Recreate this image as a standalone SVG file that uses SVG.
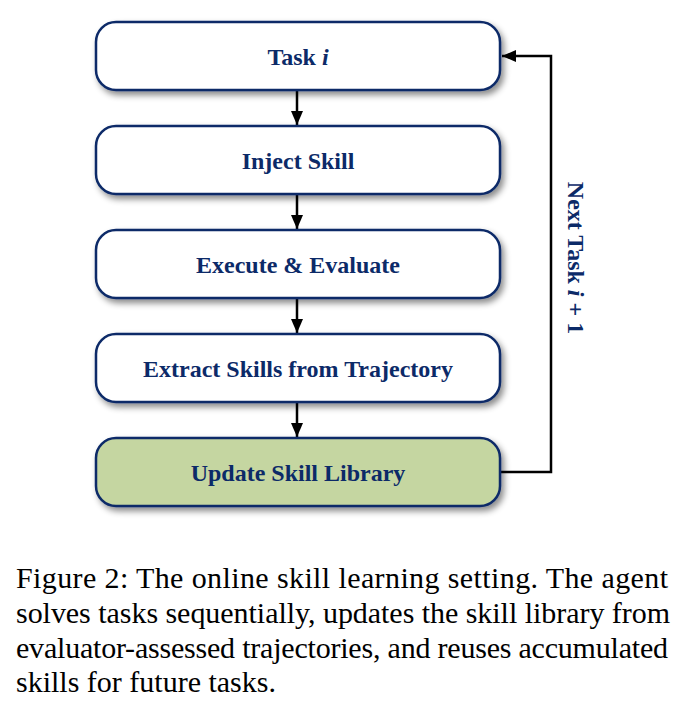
<svg xmlns="http://www.w3.org/2000/svg" width="686" height="718" viewBox="0 0 686 718">
<style>
.box{fill:#ffffff;stroke:#0c2a68;stroke-width:2.5}
.green{fill:#c5d6a1}
.lbl{font-family:"Liberation Serif",serif;font-weight:bold;font-size:24px;fill:#0c2a68;text-anchor:middle}
.conn{stroke:#000;stroke-width:2.5;fill:none}
.cap{font-family:"Liberation Serif",serif;font-size:30px;fill:#000}
</style>
<defs>
<filter id="sh" x="-10%" y="-20%" width="130%" height="160%">
<feDropShadow dx="3" dy="4" stdDeviation="3" flood-color="#000" flood-opacity="0.45"/>
</filter>
<marker id="ah2" markerWidth="14" markerHeight="12" refX="14" refY="6" orient="auto" markerUnits="userSpaceOnUse" viewBox="0 0 14 12">
<path d="M0,0 L14,6 L0,12 z" fill="#000"/>
</marker>
</defs>
<rect width="686" height="718" fill="#fff"/>
<g id="connectors">
<line class="conn" x1="297" y1="91" x2="297" y2="125" marker-end="url(#ah2)"/>
<line class="conn" x1="297" y1="195" x2="297" y2="229" marker-end="url(#ah2)"/>
<line class="conn" x1="297" y1="299" x2="297" y2="333" marker-end="url(#ah2)"/>
<line class="conn" x1="297" y1="403" x2="297" y2="437" marker-end="url(#ah2)"/>
<polyline class="conn" points="501,472 551,472 551,56 502,56" marker-end="url(#ah2)"/>
<text class="lbl" transform="translate(568,258) rotate(90)">Next Task <tspan font-style="italic">i</tspan> + 1</text>
</g>
<g id="task">
<rect class="box" x="96" y="22" width="404" height="68" rx="20" filter="url(#sh)"/>
<text class="lbl" x="298" y="65">Task <tspan font-style="italic">i</tspan></text>
</g>
<g id="inject">
<rect class="box" x="96" y="126" width="404" height="68" rx="20" filter="url(#sh)"/>
<text class="lbl" x="298" y="169">Inject Skill</text>
</g>
<g id="execute">
<rect class="box" x="96" y="230" width="404" height="68" rx="20" filter="url(#sh)"/>
<text class="lbl" x="298" y="273">Execute &amp; Evaluate</text>
</g>
<g id="extract">
<rect class="box" x="96" y="334" width="404" height="68" rx="20" filter="url(#sh)"/>
<text class="lbl" x="298" y="377">Extract Skills from Trajectory</text>
</g>
<g id="update">
<rect class="box green" x="96" y="438" width="404" height="68" rx="20" filter="url(#sh)"/>
<text class="lbl" x="298" y="481">Update Skill Library</text>
</g>
<g id="caption">
<text class="cap" x="16" y="588" textLength="652" lengthAdjust="spacing">Figure 2: The online skill learning setting. The agent</text>
<text class="cap" x="16" y="623" textLength="654" lengthAdjust="spacing">solves tasks sequentially, updates the skill library from</text>
<text class="cap" x="16" y="658" textLength="652" lengthAdjust="spacing">evaluator-assessed trajectories, and reuses accumulated</text>
<text class="cap" x="16" y="692">skills for future tasks.</text>
</g>
</svg>
